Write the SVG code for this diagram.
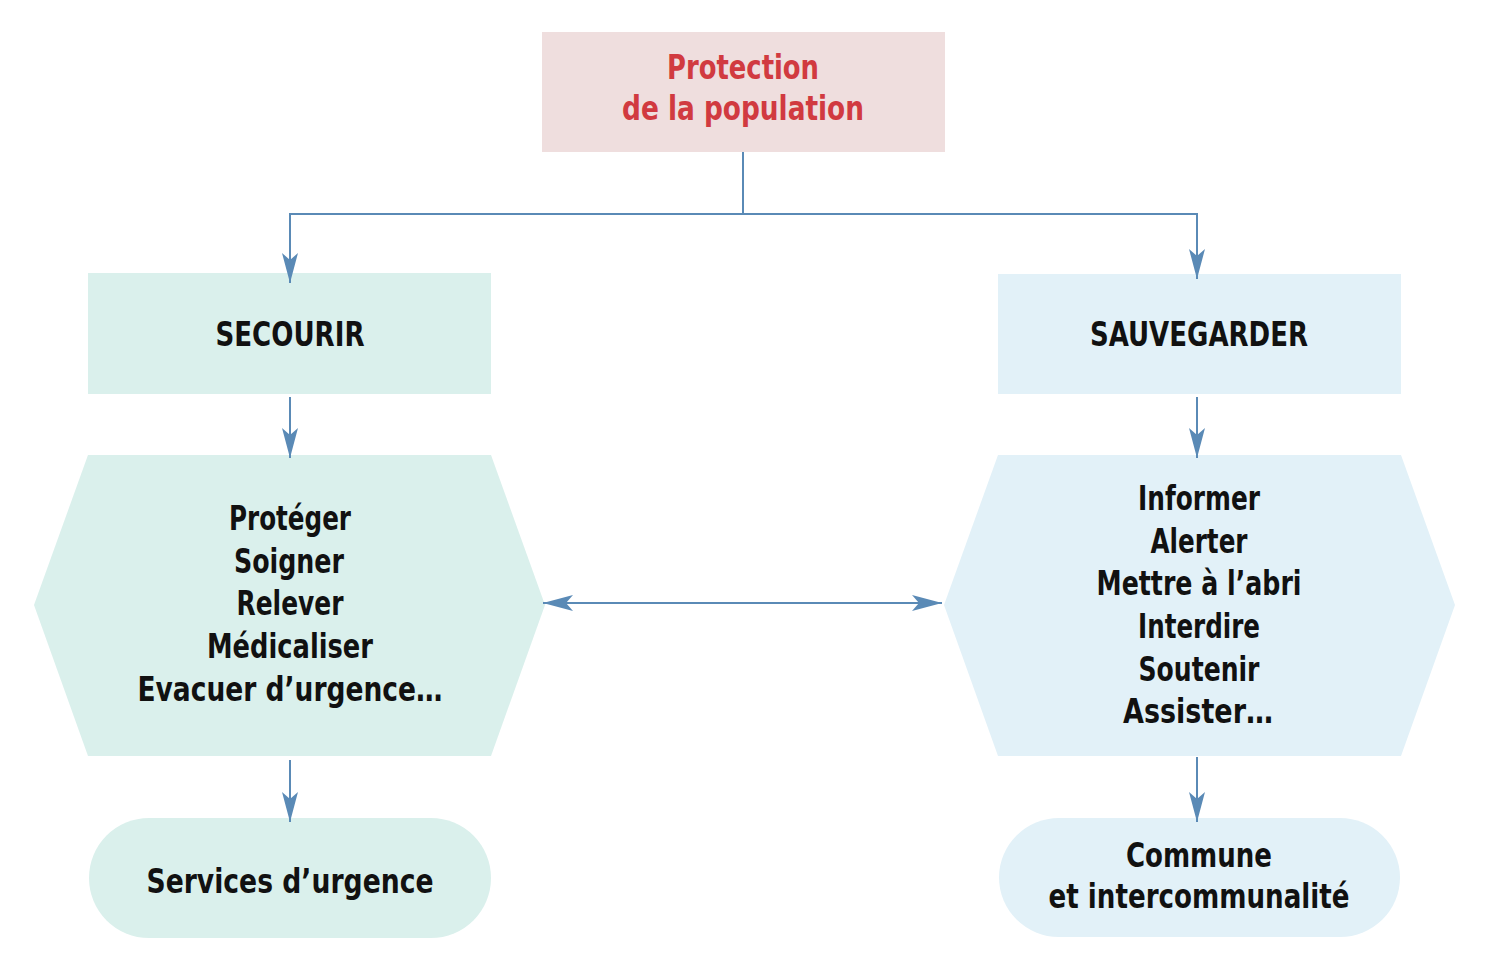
<svg xmlns="http://www.w3.org/2000/svg" width="1491" height="964" viewBox="0 0 1491 964">
<defs>
<style>
.t{font-family:"DejaVu Sans Condensed","Liberation Sans Narrow","Liberation Sans",sans-serif;font-weight:bold;font-size:34px;text-anchor:middle;fill:#111}
.red{fill:#d13a40}
.c{fill:none;stroke:#5a8ab6;stroke-width:2}
.g{fill:#daf0ec}
.b{fill:#e2f1f8}
</style>
<marker id="ah" viewBox="0 0 30 16" refX="30" refY="8" markerWidth="30" markerHeight="16" markerUnits="userSpaceOnUse" orient="auto-start-reverse">
<path d="M0,0 L30,8 L0,16 L7,8 Z" fill="#5a8ab6"/>
</marker>
</defs>
<rect width="1491" height="964" fill="#fff"/>
<g id="top">
<rect x="542" y="32" width="403" height="120" fill="#efdede"/>
<text class="t red" x="743" y="79" textLength="152" lengthAdjust="spacingAndGlyphs">Protection</text>
<text class="t red" x="743" y="120" textLength="242" lengthAdjust="spacingAndGlyphs">de la population</text>
</g>
<g id="secourir">
<rect class="g" x="88" y="273" width="403" height="121"/>
<text class="t" x="290" y="346" textLength="149" lengthAdjust="spacingAndGlyphs">SECOURIR</text>
</g>
<g id="sauvegarder">
<rect class="b" x="998" y="274" width="403" height="120"/>
<text class="t" x="1199" y="346" textLength="218" lengthAdjust="spacingAndGlyphs">SAUVEGARDER</text>
</g>
<g id="actions-secourir">
<polygon class="g" points="88,455 491,455 545,605 491,756 88,756 34,605"/>
<text class="t" x="290" y="530" textLength="122" lengthAdjust="spacingAndGlyphs">Protéger</text>
<text class="t" x="289" y="573" textLength="110" lengthAdjust="spacingAndGlyphs">Soigner</text>
<text class="t" x="290" y="615" textLength="107" lengthAdjust="spacingAndGlyphs">Relever</text>
<text class="t" x="290" y="658" textLength="166" lengthAdjust="spacingAndGlyphs">Médicaliser</text>
<text class="t" x="290" y="701" textLength="305" lengthAdjust="spacingAndGlyphs">Evacuer d’urgence…</text>
</g>
<g id="actions-sauvegarder">
<polygon class="b" points="998,455 1401,455 1455,605 1401,756 998,756 944,605"/>
<text class="t" x="1199" y="510" textLength="122" lengthAdjust="spacingAndGlyphs">Informer</text>
<text class="t" x="1199" y="553" textLength="97" lengthAdjust="spacingAndGlyphs">Alerter</text>
<text class="t" x="1199" y="595" textLength="205" lengthAdjust="spacingAndGlyphs">Mettre à l’abri</text>
<text class="t" x="1199" y="638" textLength="122" lengthAdjust="spacingAndGlyphs">Interdire</text>
<text class="t" x="1199" y="681" textLength="121" lengthAdjust="spacingAndGlyphs">Soutenir</text>
<text class="t" x="1198" y="723" textLength="150" lengthAdjust="spacingAndGlyphs">Assister…</text>
</g>
<g id="services">
<rect class="g" x="89" y="818" width="402" height="120" rx="60"/>
<text class="t" x="290" y="893" textLength="287" lengthAdjust="spacingAndGlyphs">Services d’urgence</text>
</g>
<g id="commune">
<rect class="b" x="999" y="818" width="401" height="119" rx="60"/>
<text class="t" x="1199" y="867" textLength="146" lengthAdjust="spacingAndGlyphs">Commune</text>
<text class="t" x="1199" y="908" textLength="301" lengthAdjust="spacingAndGlyphs">et intercommunalité</text>
</g>
<g id="connectors">
<path class="c" d="M743,152 V214 H290 V283" marker-end="url(#ah)"/>
<path class="c" d="M743,214 H1197 V279" marker-end="url(#ah)"/>
<path class="c" d="M290,397 V458" marker-end="url(#ah)"/>
<path class="c" d="M1197,397 V458" marker-end="url(#ah)"/>
<path class="c" d="M290,760 V822" marker-end="url(#ah)"/>
<path class="c" d="M1197,757 V822" marker-end="url(#ah)"/>
<path class="c" d="M543,603 H942" marker-start="url(#ah)" marker-end="url(#ah)"/>
</g>
</svg>
